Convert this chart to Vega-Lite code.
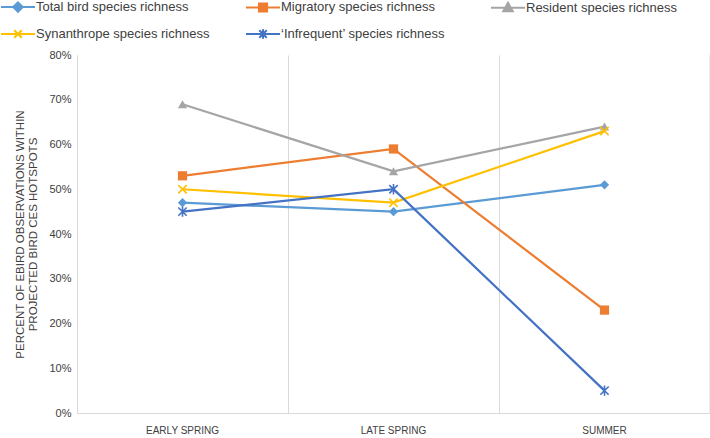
{
  "$schema": "https://vega.github.io/schema/vega-lite/v6.json",
  "width": 633,
  "height": 358,
  "autosize": {"type": "none"},
  "padding": {"left": 77, "top": 55, "right": 0, "bottom": 25},
  "background": "white",
  "config": {
    "view": {"stroke": null},
    "font": "Liberation Sans",
    "legend": {
      "title": null,
      "orient": "none",
      "legendX": -77,
      "legendY": -66,
      "direction": "horizontal",
      "columns": 3,
      "gridAlign": "all",
      "columnPadding": 32,
      "rowPadding": 0,
      "labelFontSize": 13,
      "labelLimit": 300,
      "labelColor": "#404040",
      "labelOffset": 0,
      "symbolSize": 1156,
      "symbolStrokeWidth": 2,
      "symbolOpacity": 1
    }
  },
  "data": {
    "values": [
      {"season": "EARLY SPRING", "series": "Total bird species richness", "value": 0.47},
      {"season": "LATE SPRING", "series": "Total bird species richness", "value": 0.45},
      {"season": "SUMMER", "series": "Total bird species richness", "value": 0.51},
      {"season": "EARLY SPRING", "series": "Migratory species richness", "value": 0.53},
      {"season": "LATE SPRING", "series": "Migratory species richness", "value": 0.59},
      {"season": "SUMMER", "series": "Migratory species richness", "value": 0.23},
      {"season": "EARLY SPRING", "series": "Resident species richness", "value": 0.69},
      {"season": "LATE SPRING", "series": "Resident species richness", "value": 0.54},
      {"season": "SUMMER", "series": "Resident species richness", "value": 0.64},
      {"season": "EARLY SPRING", "series": "Synanthrope species richness", "value": 0.50},
      {"season": "LATE SPRING", "series": "Synanthrope species richness", "value": 0.47},
      {"season": "SUMMER", "series": "Synanthrope species richness", "value": 0.63},
      {"season": "EARLY SPRING", "series": "‘Infrequent’ species richness", "value": 0.45},
      {"season": "LATE SPRING", "series": "‘Infrequent’ species richness", "value": 0.50},
      {"season": "SUMMER", "series": "‘Infrequent’ species richness", "value": 0.05}
    ]
  },
  "encoding": {
    "x": {
      "field": "season",
      "type": "nominal",
      "sort": ["EARLY SPRING", "LATE SPRING", "SUMMER"],
      "scale": {"type": "band", "paddingInner": 0, "paddingOuter": 0},
      "axis": {
        "title": null,
        "labelAngle": 0,
        "labelFontSize": 10,
        "labelColor": "#404040",
        "labelPadding": 12,
        "labelDx": -7,
        "ticks": false,
        "domainColor": "#d9d9d9",
        "grid": true,
        "gridColor": "#d9d9d9",
        "bandPosition": 0
      }
    },
    "y": {
      "field": "value",
      "type": "quantitative",
      "scale": {"domain": [0, 0.8]},
      "axis": {
        "title": ["PERCENT OF EBIRD OBSERVATIONS WITHIN", "PROJECTED BIRD CES HOTSPOTS"],
        "titleFontSize": 11.5,
        "titleFontWeight": "normal",
        "titleColor": "#404040",
        "titlePadding": 10,
        "format": ".0%",
        "values": [0, 0.1, 0.2, 0.3, 0.4, 0.5, 0.6, 0.7, 0.8],
        "labelOverlap": false,
        "labelFontSize": 11,
        "labelColor": "#404040",
        "labelPadding": 6,
        "ticks": false,
        "grid": false,
        "domainColor": "#d9d9d9"
      }
    },
    "color": {
      "field": "series", "type": "nominal",
      "scale": {
        "domain": ["Total bird species richness", "Migratory species richness", "Resident species richness", "Synanthrope species richness", "‘Infrequent’ species richness"],
        "range": ["#5B9BD5", "#ED7D31", "#A5A5A5", "#FFC000", "#4472C4"]
      }
    }
  },
  "layer": [
    {
      "mark": {"type": "line", "strokeWidth": 2.25},
      "encoding": {}
    },
    {
      "transform": [{"filter": {"field": "series", "equal": "Total bird species richness"}}],
      "mark": {"type": "point", "filled": true, "size": 85, "opacity": 1, "shape": "diamond"},
      "encoding": {}
    },
    {
      "transform": [{"filter": {"field": "series", "equal": "Migratory species richness"}}],
      "mark": {"type": "point", "filled": true, "size": 85, "opacity": 1, "shape": "square"},
      "encoding": {}
    },
    {
      "transform": [{"filter": {"field": "series", "equal": "Resident species richness"}}],
      "mark": {"type": "point", "filled": true, "size": 85, "opacity": 1, "shape": "triangle-up"},
      "encoding": {}
    },
    {
      "transform": [{"filter": {"field": "series", "equal": "Synanthrope species richness"}}],
      "mark": {"type": "point", "filled": false, "size": 70, "strokeWidth": 1.6, "opacity": 1, "shape": "M-1,-1L1,1M-1,1L1,-1"},
      "encoding": {}
    },
    {
      "transform": [{"filter": {"field": "series", "equal": "‘Infrequent’ species richness"}}],
      "mark": {"type": "point", "filled": false, "size": 70, "strokeWidth": 1.6, "opacity": 1, "shape": "M-1,-1L1,1M-1,1L1,-1M0,-1.25L0,1.25"},
      "encoding": {}
    },
    {
      "mark": {"type": "point", "filled": true, "opacity": 0, "size": 10},
      "encoding": {
        "stroke": {"field": "series", "type": "nominal", "scale": {
          "domain": ["Total bird species richness", "Migratory species richness", "Resident species richness", "Synanthrope species richness", "‘Infrequent’ species richness"],
          "range": ["#5B9BD5", "#ED7D31", "#A5A5A5", "#FFC000", "#4472C4"]
        }},
        "shape": {"field": "series", "type": "nominal", "scale": {
          "domain": ["Total bird species richness", "Migratory species richness", "Resident species richness", "Synanthrope species richness", "‘Infrequent’ species richness"],
          "range": ["M-1,0H1M0,-0.28L0.28,0L0,0.28L-0.28,0Z", "M-1,0H1M-0.24,-0.24H0.24V0.24H-0.24Z", "M-1,0H1M0,-0.3L0.28,0.2H-0.28Z", "M-1,0H1M-0.22,-0.22L0.22,0.22M-0.22,0.22L0.22,-0.22", "M-1,0H1M-0.22,-0.22L0.22,0.22M-0.22,0.22L0.22,-0.22M0,-0.28V0.28"]
        }}
      }
    },
    {
      "data": {"values": [{"season": "SUMMER"}]},
      "mark": {"type": "rule", "color": "#d9d9d9", "strokeWidth": 1},
      "encoding": {
        "x": {"field": "season", "type": "nominal", "bandPosition": 1},
        "y": {"value": 0},
        "y2": {"value": 358},
        "color": null
      }
    }
  ]
}
